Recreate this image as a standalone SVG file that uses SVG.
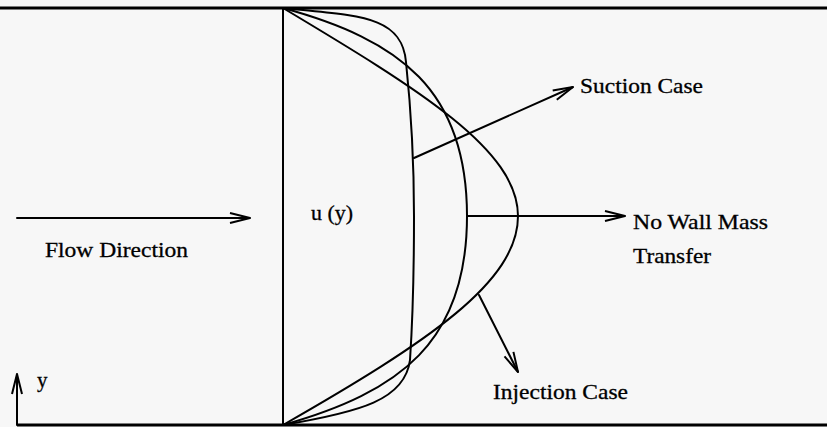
<svg xmlns="http://www.w3.org/2000/svg" width="827" height="427" viewBox="0 0 827 427">
<style>
.ln{fill:none;stroke:#000;stroke-width:2;stroke-linecap:round;stroke-linejoin:round}
.wall{fill:none;stroke:#000;stroke-width:3}
.t{font-family:"Liberation Serif","Times New Roman",serif;font-size:21px;fill:#000;stroke:#000;stroke-width:0.3}
</style>
<defs>
<marker id="ah" markerUnits="userSpaceOnUse" markerWidth="30" markerHeight="16" viewBox="-22 -8 24 16" refX="0" refY="0" orient="auto">
<path d="M-20,-5 L0,0 L-20,5" fill="none" stroke="#000" stroke-width="2" stroke-linejoin="miter"/>
</marker>
</defs>
<rect x="0" y="0" width="827" height="427" fill="#f7f7f7"/>
<g id="walls">
<line class="wall" x1="0" y1="8" x2="827" y2="8"/>
<line class="wall" x1="17" y1="425" x2="827" y2="425"/>
<line class="ln" x1="283" y1="8" x2="283" y2="425"/>
</g>
<g id="suction-profile">
<path class="ln" d="M283,8 C355,16 402,14 406,62 C410,100 414,150 414,216 C414,290 412,330 410,360 C405,400 360,412 283,425"/>
</g>
<g id="no-wall-profile">
<path class="ln" d="M283,8 C400,40 467,90 467,216 C467,342 400,392 283,425"/>
</g>
<g id="injection-profile">
<path class="ln" d="M283,8 C420,90 518,150 518,216 C518,282 428,342 283,425"/>
</g>
<g id="connectors">
<line class="ln" x1="17" y1="218" x2="250" y2="218" marker-end="url(#ah)"/>
<line class="ln" x1="17" y1="425" x2="17" y2="374" marker-end="url(#ah)"/>
<line class="ln" x1="414" y1="158" x2="573" y2="87" marker-end="url(#ah)"/>
<line class="ln" x1="467" y1="216" x2="625" y2="216" marker-end="url(#ah)"/>
<line class="ln" x1="479" y1="295" x2="518" y2="372" marker-end="url(#ah)"/>
</g>
<g id="labels">
<text class="t" x="45" y="257" textLength="143" lengthAdjust="spacingAndGlyphs">Flow Direction</text>
<text class="t" x="311" y="220" textLength="42" lengthAdjust="spacingAndGlyphs">u (y)</text>
<text class="t" x="580" y="93" textLength="123" lengthAdjust="spacingAndGlyphs">Suction Case</text>
<text class="t" x="633" y="229" textLength="135" lengthAdjust="spacingAndGlyphs">No Wall Mass</text>
<text class="t" x="633" y="263" textLength="78" lengthAdjust="spacingAndGlyphs">Transfer</text>
<text class="t" x="493" y="399" textLength="135" lengthAdjust="spacingAndGlyphs">Injection Case</text>
<text class="t" x="37" y="387">y</text>
</g>
</svg>
